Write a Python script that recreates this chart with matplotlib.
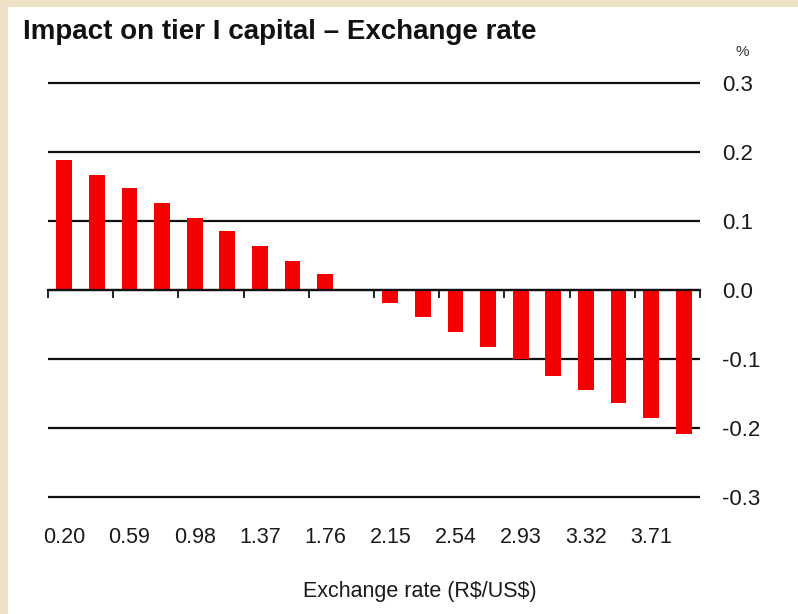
import numpy as np
import matplotlib.pyplot as plt
from matplotlib.patches import Rectangle

# values (% of tier I capital), one per exchange-rate step
impact = [0.189, 0.167, 0.148, 0.126, 0.105, 0.086, 0.064, 0.042, 0.023, 0.0,
          -0.019, -0.039, -0.061, -0.083, -0.100, -0.124, -0.145, -0.164, -0.186, -0.208]
rate_labels = ['0.20', '0.59', '0.98', '1.37', '1.76', '2.15', '2.54', '2.93', '3.32', '3.71']
y_ticks = [-0.3, -0.2, -0.1, 0.0, 0.1, 0.2, 0.3]
y_labels = ['-0.3', '-0.2', '-0.1', '0.0', '0.1', '0.2', '0.3']

font = ['Liberation Sans', 'DejaVu Sans']

fig = plt.figure(figsize=(7.98, 6.14), dpi=100, facecolor='#eee2c6')
# white panel over the beige paper background
fig.patches.append(Rectangle((8 / 798, 0), 1, 1 - 7 / 614, transform=fig.transFigure,
                             facecolor='white', edgecolor='none', zorder=-1))

ax = fig.add_axes([48 / 798, 1 - 497 / 614, 652 / 798, 414 / 614])
ax.set_facecolor('none')
ax.set_zorder(2)

x = np.arange(len(impact))
ax.bar(x, impact, width=0.48, color='#f50000', zorder=3)

ax.set_xlim(-0.5, len(impact) - 0.5)
ax.set_ylim(-0.3, 0.3)

# horizontal gridlines across the plot
ax.hlines(y_ticks, -0.5, len(impact) - 0.5, color='#111111', lw=1.6, clip_on=False, zorder=2)

for s in ['top', 'left', 'right']:
    ax.spines[s].set_visible(False)
ax.spines['bottom'].set_position(('data', 0))
ax.spines['bottom'].set_color('#111111')
ax.spines['bottom'].set_linewidth(1.6)
ax.spines['bottom'].set_zorder(4)

# tick marks on the zero line every two categories
ax.set_xticks(np.arange(-0.5, len(impact), 2))
ax.set_xticklabels([])
ax.tick_params(axis='x', direction='out', length=6, width=1.3, color='#111111')

# category labels along the bottom
sec = ax.secondary_xaxis(0)
sec.set_xticks(x[::2], rate_labels)
sec.spines['bottom'].set_visible(False)
sec.tick_params(length=0, pad=21.5, labelsize=15.5, labelcolor='#1a1a1a')
for t in sec.get_xticklabels():
    t.set_family(font)

fig.text(420 / 798, 1 - 592 / 614, r'Exchange rate (R\$/US\$)', fontsize=15.5, family=font,
         color='#1a1a1a', ha='center', va='center')

ax.yaxis.tick_right()
ax.set_yticks(y_ticks, y_labels)
ax.tick_params(axis='y', length=0, pad=16, labelsize=16, labelcolor='#1a1a1a')
for t in ax.get_yticklabels():
    t.set_family(font)

fig.text(742 / 798, 1 - 52 / 614, '%', fontsize=11, family=font, color='#333333',
         ha='center', va='center')
fig.text(23 / 798, 1 - 32 / 614, 'Impact on tier I capital \u2013 Exchange rate', fontsize=20,
         fontweight='bold', family=font, color='#111111', ha='left', va='center')

fig.savefig('out.png', dpi=100, facecolor=fig.get_facecolor())
